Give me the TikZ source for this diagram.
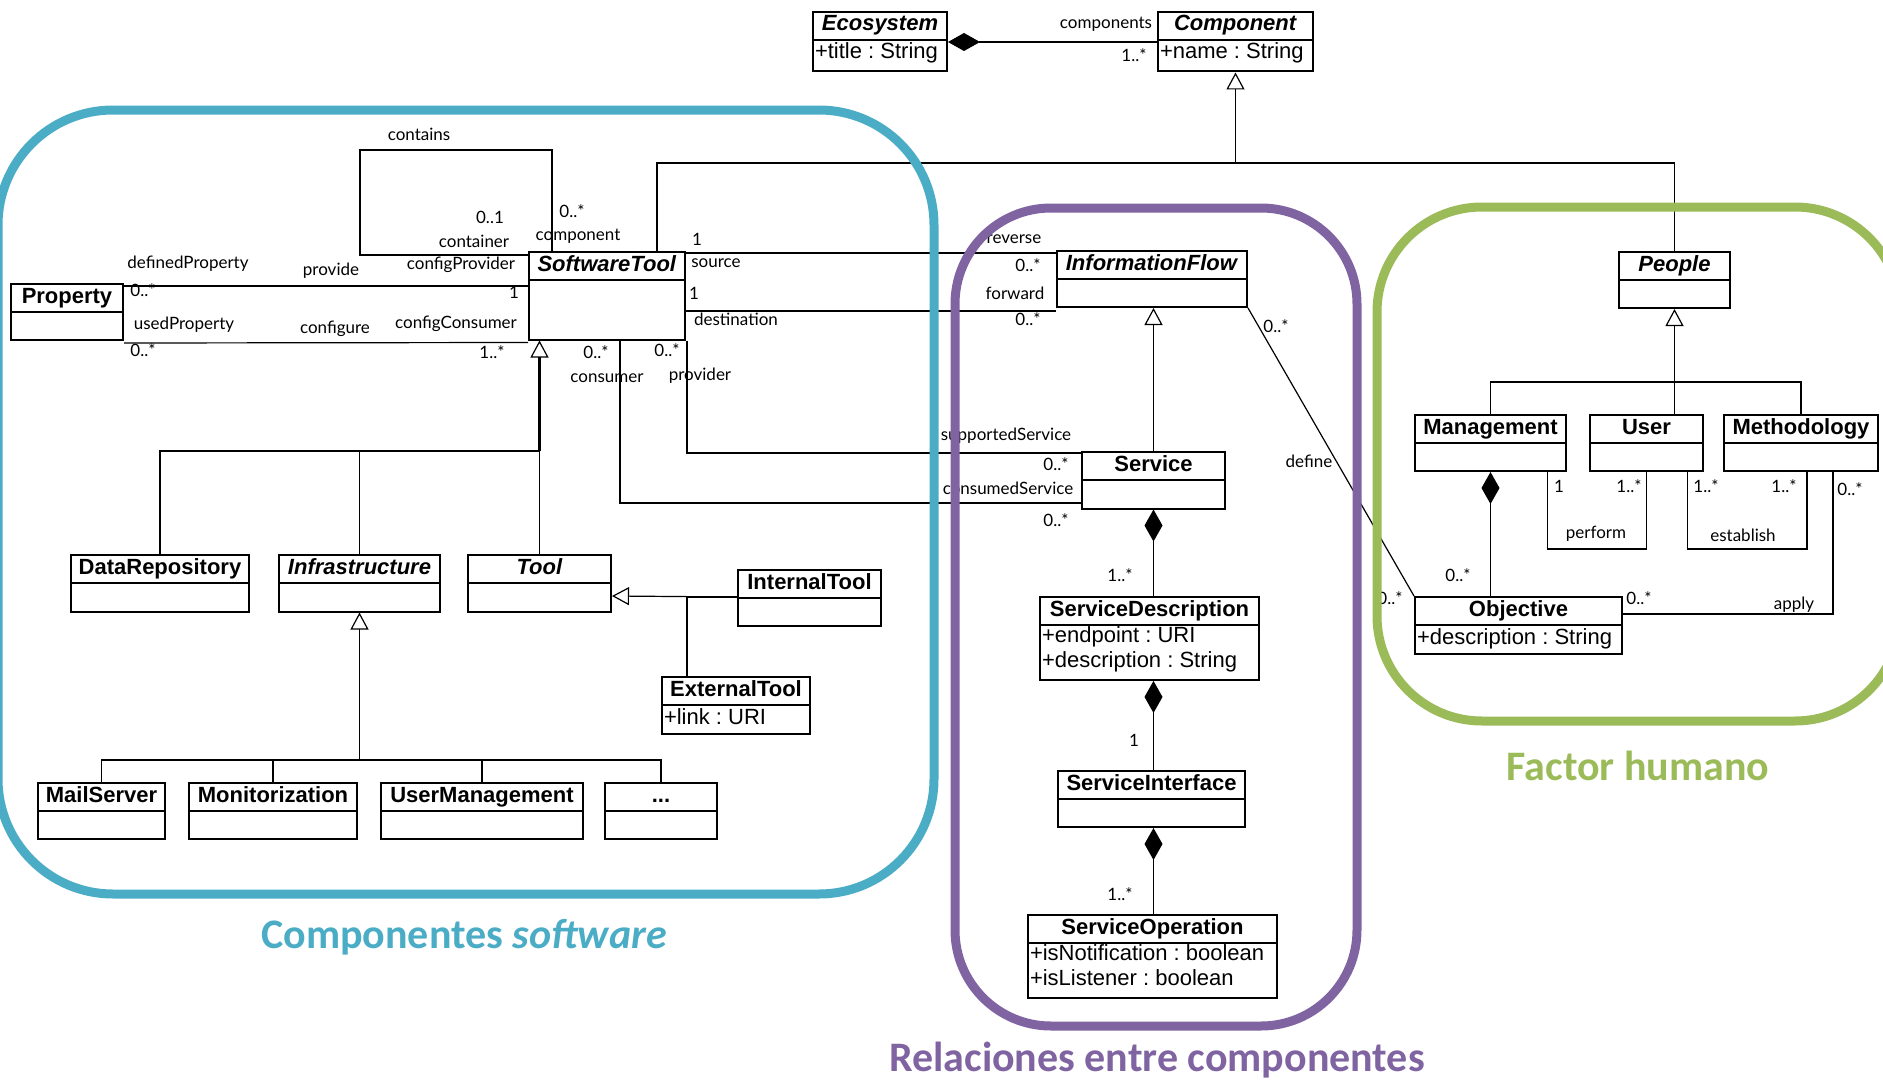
\documentclass[tikz,border=0pt]{standalone}
\usepackage{fontspec}
\setmainfont{Liberation Sans}
\newfontfamily\lblfont{Lato}
\newfontfamily\ttlfont{Carlito}
\usetikzlibrary{shapes.multipart,arrows.meta,positioning}
\definecolor{zblue}{HTML}{4BACC6}
\definecolor{zpurple}{HTML}{8064A2}
\definecolor{zgreen}{HTML}{9BBB59}
\newcommand\clsgap[1]{\rule[-#1]{0pt}{0pt}}
\frenchspacing

\begin{document}
\begin{tikzpicture}[x=1pt,y=1pt]

\tikzstyle{cls} = [rectangle split, rectangle split parts=2, draw, line width=2pt, anchor=north west, inner xsep=2pt, inner ysep=0.5pt, align=left, rectangle split part align={center,left}, font=\fontsize{22}{25}\selectfont, execute at begin node=\strut]
\tikzstyle{lbl} = [inner sep=0pt, font=\lblfont\fontsize{17}{20}\selectfont]
\tikzstyle{ttl} = [inner sep=0pt, font=\ttlfont\bfseries\fontsize{42}{50}\selectfont]
\tikzstyle{assoc} = [line width=1.2pt]
\tikzstyle{gen} = [line width=1.2pt, -{Triangle[open,length=17pt,width=18pt,line width=1.2pt]}]
\tikzstyle{compo} = [line width=1.2pt, {Diamond[length=32pt,width=18pt]}-]
\tikzstyle{zone} = [line width=9pt, rounded corners=96pt]

\useasboundingbox (0,0) rectangle (1883,-1081);

% Top
\node (eco) [cls, minimum width=134pt] at (812,-11) {\textbf{\textit{Ecosystem}}\nodepart{second}+title : String\clsgap{11pt}};
\node (comp) [cls, minimum width=155pt] at (1157,-11) {\textbf{\textit{Component}}\nodepart{second}+name : String\clsgap{11pt}};

% Software components
\node (prop) [cls, minimum width=112pt] at (10,-283) {\textbf{Property}\nodepart{second}\clsgap{7pt}};
\node (stool) [cls, minimum width=156pt] at (528,-251) {\textbf{\textit{SoftwareTool}}\nodepart{second}\clsgap{39pt}};
\node (drepo) [cls, minimum width=178pt] at (70,-554) {\textbf{DataRepository}\nodepart{second}\clsgap{8pt}};
\node (infra) [cls, minimum width=161pt] at (278,-554) {\textbf{\textit{Infrastructure}}\nodepart{second}\clsgap{8pt}};
\node (tool) [cls, minimum width=143pt] at (467,-554) {\textbf{\textit{Tool}}\nodepart{second}\clsgap{8pt}};
\node (itool) [cls, minimum width=143pt] at (737,-569) {\textbf{InternalTool}\nodepart{second}\clsgap{6pt}};
\node (etool) [cls, minimum width=148pt] at (661,-676) {\textbf{ExternalTool}\nodepart{second}+link : URI\clsgap{8pt}};
\node (mail) [cls, minimum width=127pt] at (37,-782) {\textbf{MailServer}\nodepart{second}\clsgap{7pt}};
\node (monit) [cls, minimum width=168pt] at (188,-782) {\textbf{Monitorization}\nodepart{second}\clsgap{7pt}};
\node (umgmt) [cls, minimum width=202pt] at (380,-782) {\textbf{UserManagement}\nodepart{second}\clsgap{7pt}};
\node (dots) [cls, minimum width=112pt] at (604,-782) {\textbf{...}\nodepart{second}\clsgap{7pt}};

% Relations between components
\node (iflow) [cls, minimum width=190pt] at (1056,-250) {\textbf{\textit{InformationFlow}}\nodepart{second}\clsgap{7pt}};
\node (serv) [cls, minimum width=143pt] at (1081,-451) {\textbf{Service}\nodepart{second}\clsgap{8pt}};
\node (sdesc) [cls, minimum width=219pt] at (1039,-596) {\textbf{ServiceDescription}\nodepart{second}+endpoint : URI\\+description : String\clsgap{11pt}};
\node (sint) [cls, minimum width=187pt] at (1057,-770) {\textbf{ServiceInterface}\nodepart{second}\clsgap{7pt}};
\node (sop) [cls, minimum width=249pt] at (1027,-914) {\textbf{ServiceOperation}\nodepart{second}+isNotification : boolean\\+isListener : boolean\clsgap{11pt}};

% Human factor
\node (people) [cls, minimum width=111pt] at (1618,-251) {\textbf{\textit{People}}\nodepart{second}\clsgap{6pt}};
\node (mgmt) [cls, minimum width=151pt] at (1414,-414) {\textbf{Management}\nodepart{second}\clsgap{6pt}};
\node (user) [cls, minimum width=113pt] at (1589,-414) {\textbf{User}\nodepart{second}\clsgap{6pt}};
\node (meth) [cls, minimum width=154pt] at (1723,-414) {\textbf{Methodology}\nodepart{second}\clsgap{6pt}};
\node (obj) [cls, minimum width=207pt] at (1414,-596) {\textbf{Objective}\nodepart{second}+description : String\clsgap{8pt}};

% Paths for top
\draw [compo] ([yshift=-31pt]eco.north east) -- ([yshift=-31pt]comp.north west);
\draw [assoc] ([xshift=50pt]stool.north) |- ([yshift=-152pt]comp.north) -| (people.north);
\draw [gen] ([yshift=-152pt]comp.north) -- (comp.south);

% Paths for software components
\draw [assoc] ([yshift=-4pt]stool.north west) -| ++(-168,105) -| ([xshift=-55pt]stool.north);
\draw [assoc] ([yshift=-3pt]prop.north east) -- ([yshift=-35pt]stool.north west);
\draw [assoc] ([yshift=-2pt]prop.south east) -- ([yshift=-2pt]stool.south west);
\path (tool.north) ++(0,103) coordinate (sbus);
\draw [assoc] (drepo.north) |- (sbus) -- (tool.north);
\draw [assoc] (infra.north) -- (infra.north |- sbus);
\draw [gen, line width=2.4pt] (sbus) -- (tool.north |- stool.south);
\draw [gen] ([yshift=-28pt]itool.north west) -- ([yshift=-42pt]tool.north east);
\draw [assoc] ([xshift=-49pt]etool.north) |- ([yshift=-28pt]itool.north west);
\path (infra.north |- mail.north) ++(0,22) coordinate (ibus);
\draw [assoc] (mail.north) |- (ibus) -| (dots.north);
\draw [assoc] (monit.north) -- (monit.north |- ibus);
\draw [assoc] (umgmt.north) -- (umgmt.north |- ibus);
\draw [gen] (ibus) -- (infra.south);

% Paths for relations
\draw [assoc] ([yshift=-2pt]stool.north east) -- ([yshift=-3pt]iflow.north west);
\draw [assoc] ([yshift=-60pt]stool.north east) -- ([yshift=-61pt]iflow.north west);
\draw [assoc] ([xshift=80pt]stool.south) |- ([yshift=-2pt]serv.north west);
\draw [assoc] ([xshift=13pt]stool.south) |- ([yshift=-52pt]serv.north west);
\draw [gen] (serv.north) -- (serv.north |- iflow.south);
\draw [assoc] (iflow.south east) -- (obj.north west);
\draw [compo] (serv.south) -- (serv.north |- sdesc.north);
\draw [compo] (serv.north |- sdesc.south) -- (serv.north |- sint.north);
\draw [compo] (serv.north |- sint.south) -- (serv.north |- sop.north);

% Paths for human factor
\path (people.north |- user.north) ++(0,32) coordinate (pbus);
\draw [assoc] (mgmt.north) |- (pbus) -| (meth.north);
\draw [gen] (people.north |- user.north) -- (people.south);
\draw [compo] (mgmt.south) -- (mgmt.north |- obj.north);
\draw [assoc] ([xshift=57pt]mgmt.south) -- ++(0,-77) -| (user.south);
\draw [assoc] ([xshift=41pt]user.south) -- ++(0,-77) -| ([xshift=6pt]meth.south);
\draw [assoc] ([xshift=32pt]meth.south) |- ([yshift=-18pt]obj.north east);

% Role names and multiplicities
\node (l1) [lbl] at (1106,-24) {components};
\node (l2) [lbl] at (1134,-55) {1..*};
\node (l3) [lbl] at (419,-134) {contains};
\node (l4) [lbl] at (490,-217) {0..1};
\node (l5) [lbl] at (474,-241) {container};
\node (l6) [lbl] at (572,-211) {0..*};
\node (l7) [lbl] at (578,-236) {component};
\node (l8) [lbl] at (188,-264) {definedProperty};
\node (l9) [lbl] at (143,-290) {0..*};
\node (l10) [lbl] at (331,-271) {provide};
\node (l11) [lbl] at (461,-265) {configProvider};
\node (l12) [lbl] at (514,-292) {1};
\node (l13) [lbl] at (184,-325) {usedProperty};
\node (l14) [lbl] at (143,-350) {0..*};
\node (l15) [lbl] at (335,-329) {configure};
\node (l16) [lbl] at (456,-324) {configConsumer};
\node (l17) [lbl] at (492,-352) {1..*};
\node (l18) [lbl] at (697,-239) {1};
\node (l19) [lbl] at (716,-263) {source};
\node (l20) [lbl] at (1014,-239) {reverse};
\node (l21) [lbl] at (1028,-265) {0..*};
\node (l22) [lbl] at (694,-293) {1};
\node (l23) [lbl] at (736,-319) {destination};
\node (l24) [lbl] at (1015,-293) {forward};
\node (l25) [lbl] at (1028,-319) {0..*};
\node (l26) [lbl] at (667,-350) {0..*};
\node (l27) [lbl] at (700,-376) {provider};
\node (l28) [lbl] at (1006,-436) {supportedService};
\node (l29) [lbl] at (1056,-464) {0..*};
\node (l30) [lbl] at (596,-352) {0..*};
\node (l31) [lbl] at (607,-378) {consumer};
\node (l32) [lbl] at (1008,-488) {consumedService};
\node (l33) [lbl] at (1056,-520) {0..*};
\node (l34) [lbl] at (1276,-326) {0..*};
\node (l35) [lbl] at (1309,-461) {define};
\node (l36) [lbl] at (1390,-598) {0..*};
\node (l37) [lbl] at (1120,-575) {1..*};
\node (l38) [lbl] at (1134,-740) {1};
\node (l39) [lbl] at (1120,-894) {1..*};
\node (l40) [lbl] at (1458,-575) {0..*};
\node (l41) [lbl] at (1559,-486) {1};
\node (l42) [lbl] at (1629,-486) {1..*};
\node (l43) [lbl] at (1596,-534) {perform};
\node (l44) [lbl] at (1706,-486) {1..*};
\node (l45) [lbl] at (1784,-486) {1..*};
\node (l46) [lbl] at (1743,-535) {establish};
\node (l47) [lbl] at (1850,-489) {0..*};
\node (l48) [lbl] at (1639,-598) {0..*};
\node (l49) [lbl] at (1794,-605) {apply};

% Zones
\draw [zone, draw=zblue, rounded corners=115pt] (-2,-110) rectangle (934,-894);
\draw [zone, draw=zpurple] (955,-208) rectangle (1357,-1026);
\draw [zone, draw=zgreen, rounded corners=105pt] (1377,-207) rectangle (1900,-721);
\node (t1) [ttl, text=zblue] at (464,-937) {Componentes \textit{software}};
\node (t2) [ttl, text=zpurple] at (1157,-1060) {Relaciones entre componentes};
\node (t3) [ttl, text=zgreen] at (1638,-766) {Factor humano};

\end{tikzpicture}
\end{document}
